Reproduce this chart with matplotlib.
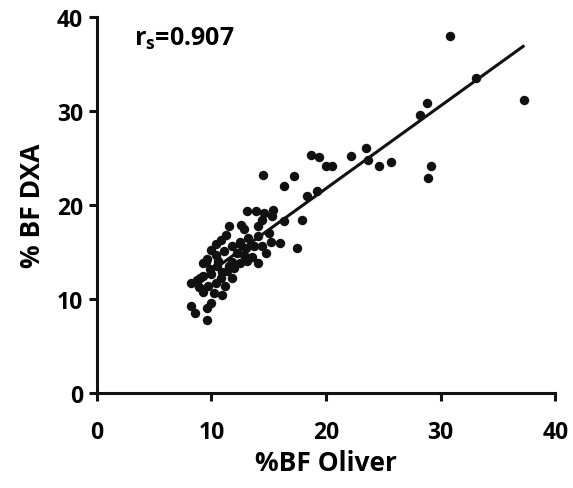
import matplotlib
matplotlib.use("Agg")
import matplotlib.pyplot as plt
import numpy as np

plt.rcParams['font.family'] = ['Open Sans', 'DejaVu Sans']
plt.rcParams['mathtext.default'] = 'regular'

# %BF estimated by the Oliver equation vs. %BF measured by DXA
bf_oliver = [
    30.8, 37.3, 33.1, 28.2, 28.8, 29.2, 28.9, 25.7, 24.6, 23.5, 23.7, 22.2,
    18.7, 19.4, 20.0, 20.5, 16.3, 17.2, 18.3, 19.2, 14.5,
    13.1, 13.9, 14.6, 15.4, 15.3, 14.4, 16.3, 17.9, 14.1, 12.6, 11.5, 12.8,
    11.3, 10.8, 10.4, 13.2, 14.1, 15.0, 12.5, 11.8, 12.5, 13.0, 13.7, 14.4,
    15.2, 12.8, 17.5, 10.0, 11.1, 12.2, 9.6, 10.6, 11.8, 9.3, 13.1, 14.1,
    10.4, 9.5, 11.5, 12.0, 12.5, 13.5, 14.8, 16.0,
    8.2, 8.6, 9.6, 9.6, 10.0, 8.2, 9.0, 9.3, 10.0, 10.9, 11.8, 10.9, 10.2,
    9.3, 8.9, 10.4, 11.2, 10.8, 9.7, 8.7, 9.9, 10.5, 11.4,
]
bf_dxa = [
    38.0, 31.2, 33.5, 29.6, 30.9, 24.2, 22.9, 24.6, 24.2, 26.1, 24.8, 25.2,
    25.3, 25.1, 24.2, 24.2, 22.0, 23.1, 21.0, 21.5, 23.2,
    19.4, 19.4, 19.2, 19.5, 18.8, 18.4, 18.3, 18.4, 17.8, 17.9, 17.8, 17.5,
    16.8, 16.3, 15.9, 16.5, 16.7, 17.0, 16.1, 15.7, 15.9, 15.4, 15.6, 15.7,
    16.1, 14.7, 15.4, 15.2, 15.1, 14.9, 14.3, 14.1, 14.0, 13.8, 14.1, 13.8,
    14.7, 14.0, 13.5, 13.3, 13.8, 14.5, 14.9, 16.0,
    9.3, 8.5, 7.8, 9.1, 9.6, 11.7, 12.2, 12.5, 12.7, 12.9, 12.2, 10.4, 10.6,
    10.8, 11.3, 11.7, 11.4, 12.2, 11.4, 12.0, 13.2, 13.5, 13.0,
]

# regression line
fit_slope = 0.879
fit_intercept = 4.19
fit_range = [8.2, 37.2]
r_s = 0.907

fig = plt.figure(figsize=(5.73, 4.89), dpi=100)
ax = fig.add_axes([0.169, 0.194, 0.8, 0.769])

ax.plot(bf_oliver, bf_dxa, 'o', color='#111111', markersize=6.8, markeredgewidth=0)
fx = np.array(fit_range)
ax.plot(fx, fit_slope * fx + fit_intercept, '-', color='#111111', linewidth=2.2)

ax.set_xlim(0, 40)
ax.set_ylim(0, 40)
ax.set_xticks([0, 10, 20, 30, 40])
ax.set_yticks([0, 10, 20, 30, 40])

for side in ['top', 'right']:
    ax.spines[side].set_visible(False)
for side in ['left', 'bottom']:
    ax.spines[side].set_linewidth(2.2)
    ax.spines[side].set_color('#111111')
ax.tick_params(width=2.2, length=6, color='#111111', labelsize=16.5, pad=4)
ax.tick_params(axis='x', pad=13)
for lbl in ax.get_xticklabels() + ax.get_yticklabels():
    lbl.set_fontweight('bold')

ax.set_xlabel('%BF Oliver', fontsize=19, fontweight='bold', labelpad=4)
ax.set_ylabel('% BF DXA', fontsize=19, fontweight='bold', labelpad=8)

ax.text(3.2, 37.8, r'r$_{s}$=%.3f' % r_s, fontsize=18, fontweight='bold',
        va='center', ha='left')

fig.savefig('out.png', dpi=100)
